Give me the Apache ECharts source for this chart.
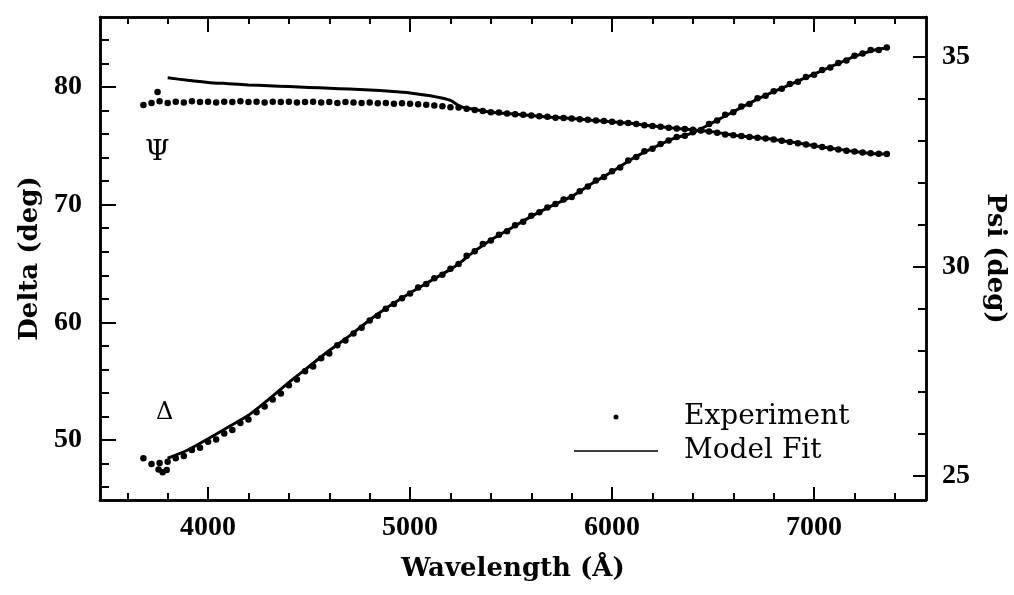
<!DOCTYPE html>
<html>
<head>
<meta charset="utf-8">
<script src="https://cdn.jsdelivr.net/npm/echarts@6/dist/echarts.min.js"></script>
<style>
  html, body { margin: 0; padding: 0; background: #fff; }
  #chart { width: 1014px; height: 595px; }
</style>
</head>
<body>
<div id="chart"></div>
<script>
// Ellipsometric spectra: Delta and Psi versus wavelength, measured points and model fit.

// Measured points (wavelength in Å)
const expWavelength = [
  3680, 3720, 3760, 3800, 3840, 3880, 3920, 3960, 4000, 4040, 4080, 4120, 4160, 4200,
  4240, 4280, 4320, 4360, 4400, 4440, 4480, 4520, 4560, 4600, 4640, 4680, 4720, 4760,
  4800, 4840, 4880, 4920, 4960, 5000, 5040, 5080, 5120, 5160, 5200, 5240, 5280, 5320,
  5360, 5400, 5440, 5480, 5520, 5560, 5600, 5640, 5680, 5720, 5760, 5800, 5840, 5880,
  5920, 5960, 6000, 6040, 6080, 6120, 6160, 6200, 6240, 6280, 6320, 6360, 6400, 6440,
  6480, 6520, 6560, 6600, 6640, 6680, 6720, 6760, 6800, 6840, 6880, 6920, 6960, 7000,
  7040, 7080, 7120, 7160, 7200, 7240, 7280, 7320, 7360
];
const deltaExp = [
  48.45, 47.95, 48.05, 48.15, 48.45, 48.65, 49.15, 49.35, 49.85, 50.05, 50.55, 50.85, 51.45, 51.75,
  52.35, 52.85, 53.45, 53.95, 54.65, 55.15, 55.85, 56.25, 56.95, 57.35, 58.05, 58.45, 59.05, 59.55,
  60.15, 60.55, 61.15, 61.55, 62.05, 62.45, 62.95, 63.25, 63.75, 64.05, 64.55, 64.95, 65.65, 66.05,
  66.65, 66.95, 67.45, 67.75, 68.25, 68.55, 69.05, 69.35, 69.75, 70.05, 70.45, 70.65, 71.15, 71.55,
  72.05, 72.35, 72.85, 73.15, 73.75, 74.05, 74.55, 74.75, 75.15, 75.45, 75.75, 75.85, 76.15, 76.35,
  76.85, 77.15, 77.65, 77.85, 78.35, 78.55, 79.05, 79.25, 79.65, 79.85, 80.25, 80.45, 80.85, 81.05,
  81.45, 81.65, 82.05, 82.25, 82.65, 82.85, 83.15, 83.15, 83.35
];
const psiExp = [
  33.85, 33.90, 33.94, 33.90, 33.93, 33.91, 33.94, 33.92, 33.93, 33.91, 33.93, 33.92, 33.94, 33.92,
  33.93, 33.91, 33.93, 33.92, 33.93, 33.91, 33.92, 33.93, 33.91, 33.92, 33.90, 33.92, 33.91, 33.90,
  33.91, 33.89, 33.90, 33.88, 33.89, 33.88, 33.87, 33.86, 33.84, 33.82, 33.80, 33.79, 33.76, 33.73,
  33.71, 33.68, 33.67, 33.65, 33.63, 33.62, 33.60, 33.58, 33.57, 33.55, 33.54, 33.53, 33.51, 33.50,
  33.48, 33.47, 33.45, 33.43, 33.42, 33.40, 33.37, 33.35, 33.33, 33.31, 33.29, 33.28, 33.26, 33.24,
  33.22, 33.19, 33.15, 33.13, 33.11, 33.09, 33.07, 33.05, 33.03, 33.00, 32.97, 32.94, 32.91, 32.88,
  32.85, 32.82, 32.79, 32.76, 32.74, 32.72, 32.70, 32.69, 32.68
];
// Scattered extra points at the short-wavelength end
const deltaStrayWavelength = [3755, 3775, 3795];
const deltaStray = [47.5, 47.25, 47.45];
const psiStrayWavelength = [3750];
const psiStray = [34.16];

// Model fit curves
const modelWavelength = [
  3800, 3900, 4000, 4100, 4200, 4300, 4400, 4500, 4600, 4700, 4800, 4900, 5000, 5100,
  5200, 5250, 5300, 5400, 5500, 5600, 5700, 5800, 5900, 6000, 6100, 6200, 6300, 6400,
  6500, 6600, 6700, 6800, 6900, 7000, 7100, 7200, 7300, 7350
];
const deltaModel = [
  48.45, 49.15, 50.1, 51.1, 52.1, 53.45, 54.9, 56.25, 57.6, 58.85, 60.2, 61.4, 62.5, 63.5,
  64.5, 65.1, 65.8, 67.0, 68.0, 69.0, 69.9, 70.7, 71.8, 72.8, 73.9, 74.8, 75.6, 76.1,
  77.0, 77.9, 78.8, 79.6, 80.35, 81.1, 81.85, 82.6, 83.15, 83.3
];
const psiModel = [
  34.50, 34.44, 34.39, 34.36, 34.33, 34.31, 34.29, 34.27, 34.25, 34.23, 34.21, 34.18, 34.14, 34.07,
  33.96, 33.81, 33.76, 33.68, 33.64, 33.60, 33.56, 33.53, 33.49, 33.45, 33.41, 33.35, 33.30, 33.26,
  33.21, 33.13, 33.08, 33.03, 32.96, 32.88, 32.81, 32.74, 32.69, 32.68
];

// Axis ticks and labels
const xMajorTicks = [4000, 5000, 6000, 7000];
const xMinorTicks = [3600, 3800, 4200, 4400, 4600, 4800, 5200, 5400, 5600, 5800,
                     6200, 6400, 6600, 6800, 7200, 7400];
const deltaMajorTicks = [50, 60, 70, 80];
const deltaMinorTicks = [46, 48, 52, 54, 56, 58, 62, 64, 66, 68, 72, 74, 76, 78, 82, 84];
const psiMajorTicks = [25, 30, 35];
const psiMinorTicks = [26, 27, 28, 29, 31, 32, 33, 34];

const xRange = [3465, 7554];
const deltaRange = [44.9, 85.95];
const psiRange = [24.43, 35.95];

const pairs = (xs, ys) => xs.map((x, i) => [x, ys[i]]);

const digitFont = { fontFamily: 'Liberation Serif', fontWeight: 'bold', fontSize: 28, color: '#000' };
const titleFont = { fontFamily: 'DejaVu Serif', fontWeight: 'bold', fontSize: 26, color: '#000' };
const plain = (v) => String(Math.round(v));

function axis(position, range, ticks, tickLen, opts) {
  return Object.assign({
    type: 'value',
    position: position,
    min: range[0],
    max: range[1],
    splitLine: { show: false },
    axisLine: { show: true, onZero: false, lineStyle: { color: '#000', width: 2.5 } },
    axisTick: { show: true, inside: true, length: tickLen, customValues: ticks,
                lineStyle: { color: '#000', width: 2 } },
    axisLabel: { show: false }
  }, opts || {});
}

const chart = echarts.init(document.getElementById('chart'), null, { renderer: 'canvas' });

chart.setOption({
  backgroundColor: '#fff',
  animation: false,
  grid: { left: 100, right: 88, top: 17, bottom: 95, containLabel: false, outerBoundsMode: 'none' },
  xAxis: [
    axis('bottom', xRange, xMajorTicks, 13, {
      axisLabel: Object.assign({ show: true, margin: 14, customValues: xMajorTicks, formatter: plain }, digitFont),
      name: 'Wavelength (Å)', nameLocation: 'middle', nameGap: 56, nameTextStyle: titleFont
    }),
    axis('bottom', xRange, xMinorTicks, 7),
    axis('top', xRange, xMajorTicks, 15),
    axis('top', xRange, xMinorTicks, 7)
  ],
  yAxis: [
    axis('left', deltaRange, deltaMajorTicks, 16, {
      axisLabel: Object.assign({ show: true, margin: 18, customValues: deltaMajorTicks, formatter: plain }, digitFont),
      name: 'Delta (deg)', nameLocation: 'middle', nameRotate: 90, nameGap: 54, nameTextStyle: titleFont
    }),
    axis('left', deltaRange, deltaMinorTicks, 9),
    axis('right', psiRange, psiMajorTicks, 13, {
      axisLabel: Object.assign({ show: true, margin: 16, customValues: psiMajorTicks, formatter: plain }, digitFont),
      name: 'Psi (deg)', nameLocation: 'middle', nameRotate: -90, nameGap: 56, nameTextStyle: titleFont
    }),
    axis('right', psiRange, psiMinorTicks, 8)
  ],
  legend: {
    orient: 'vertical',
    left: 569,
    top: 398,
    itemWidth: 84,
    itemHeight: 5,
    itemGap: 6,
    selectedMode: false,
    itemStyle: { borderWidth: 0, opacity: 1 },
    textStyle: { fontFamily: 'DejaVu Serif', fontSize: 28, color: '#000', padding: [0, 0, 0, 21] },
    data: [
      { name: 'Experiment', icon: 'circle' },
      { name: 'Model Fit', icon: 'path://M0,0L0.01,0M0,1.6L100,1.6L100,3.4L0,3.4ZM0,5L0.01,5' }
    ]
  },
  graphic: [
    { type: 'text', left: 145, top: 139, style: { text: 'Ψ', font: '28px "DejaVu Serif"', fill: '#000' } },
    { type: 'text', left: 156, top: 401, style: { text: 'Δ', font: '24px "DejaVu Serif"', fill: '#000' } }
  ],
  series: [
    {
      name: 'Model Fit', type: 'line', xAxisIndex: 0, yAxisIndex: 0,
      data: pairs(modelWavelength, deltaModel), showSymbol: false, smooth: 0.2,
      color: '#000', lineStyle: { color: '#000', width: 3 }
    },
    {
      name: 'Experiment', type: 'scatter', xAxisIndex: 0, yAxisIndex: 0,
      data: pairs(expWavelength, deltaExp).concat(pairs(deltaStrayWavelength, deltaStray)),
      symbol: 'circle', symbolSize: 6.5, color: '#000', itemStyle: { color: '#000', opacity: 1 }
    },
    {
      name: 'Model Fit', type: 'line', xAxisIndex: 0, yAxisIndex: 2,
      data: pairs(modelWavelength, psiModel), showSymbol: false, smooth: 0.2,
      color: '#000', lineStyle: { color: '#000', width: 3 }
    },
    {
      name: 'Experiment', type: 'scatter', xAxisIndex: 0, yAxisIndex: 2,
      data: pairs(expWavelength, psiExp).concat(pairs(psiStrayWavelength, psiStray)),
      symbol: 'circle', symbolSize: 6.5, color: '#000', itemStyle: { color: '#000', opacity: 1 }
    }
  ]
});
</script>
</body>
</html>
